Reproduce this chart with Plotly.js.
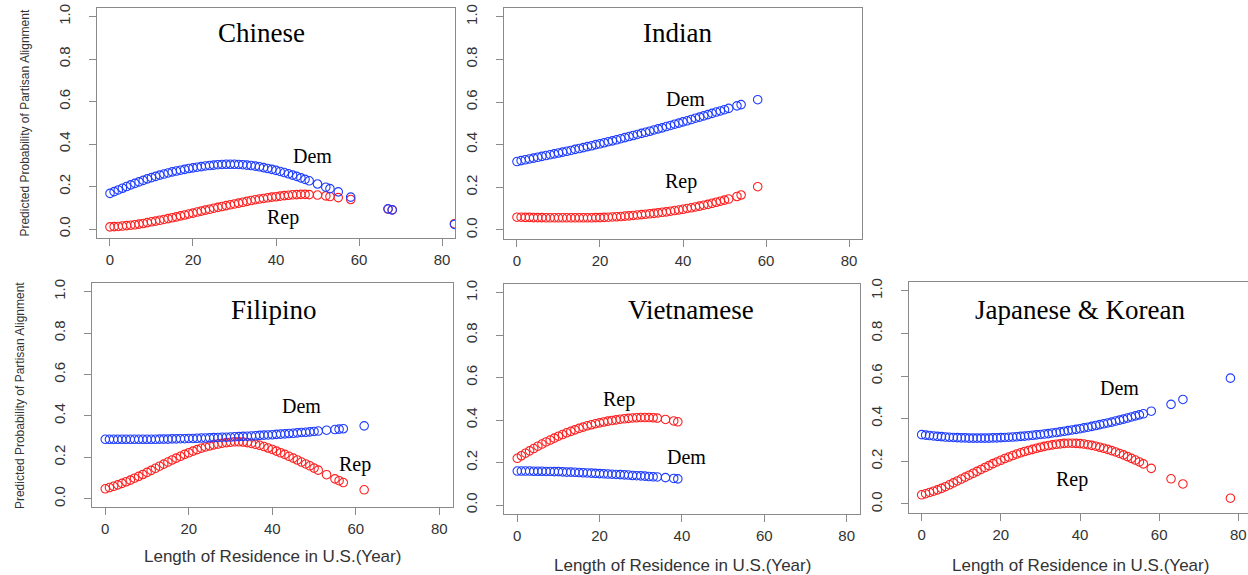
<!DOCTYPE html>
<html>
<head>
<meta charset="utf-8">
<script src="https://cdn.plot.ly/plotly-3.0.1.min.js"></script>
<style>
  html, body { margin: 0; padding: 0; background: #ffffff; }
  #chart { width: 1248px; height: 575px; }
</style>
</head>
<body>
<div id="chart"></div>
<script>
// ---------- Data ----------
const panelTitles = ["Chinese", "Indian", "Filipino", "Vietnamese", "Japanese & Korean"];
const xTickValues = [0, 20, 40, 60, 80];
const yTickValues = [0, 0.2, 0.4, 0.6, 0.8, 1.0];
const xAxisTitle = "Length of Residence in U.S.(Year)";
const yAxisTitle = "Predicted Probability of Partisan Alignment";

// Chinese
const chineseYears = [0,1,2,3,4,5,6,7,8,9,10,11,12,13,14,15,16,17,18,19,20,21,22,23,24,25,26,27,28,29,30,31,32,33,34,35,36,37,38,39,40,41,42,43,44,45,46,47,48,50,52,53,55,58,67,68,83];
const chineseDem = [0.168,0.176,0.184,0.192,0.200,0.208,0.215,0.222,0.229,0.236,0.242,0.248,0.254,0.259,0.264,0.269,0.273,0.277,0.281,0.285,0.288,0.291,0.294,0.297,0.299,0.301,0.303,0.304,0.305,0.305,0.305,0.304,0.303,0.301,0.299,0.296,0.293,0.289,0.285,0.281,0.276,0.271,0.266,0.260,0.254,0.248,0.241,0.234,0.227,0.212,0.197,0.190,0.175,0.150,0.095,0.090,0.022];
const chineseRep = [0.010,0.011,0.012,0.014,0.016,0.018,0.020,0.023,0.026,0.030,0.034,0.037,0.041,0.045,0.049,0.053,0.057,0.062,0.066,0.071,0.075,0.080,0.084,0.089,0.093,0.098,0.102,0.106,0.110,0.114,0.118,0.122,0.126,0.130,0.134,0.138,0.141,0.144,0.147,0.150,0.152,0.155,0.157,0.159,0.161,0.162,0.163,0.163,0.162,0.160,0.156,0.153,0.148,0.139,0.094,0.090,0.025];

// Indian
const indianYears = [0,1,2,3,4,5,6,7,8,9,10,11,12,13,14,15,16,17,18,19,20,21,22,23,24,25,26,27,28,29,30,31,32,33,34,35,36,37,38,39,40,41,42,43,44,45,46,47,48,49,50,51,53,54,58];
const indianDem = [0.321,0.325,0.329,0.333,0.337,0.341,0.345,0.349,0.353,0.357,0.361,0.365,0.369,0.373,0.378,0.382,0.386,0.391,0.395,0.400,0.404,0.409,0.414,0.418,0.423,0.428,0.433,0.438,0.443,0.448,0.453,0.458,0.463,0.469,0.474,0.479,0.485,0.490,0.496,0.501,0.507,0.512,0.518,0.524,0.529,0.535,0.541,0.547,0.553,0.558,0.564,0.570,0.582,0.588,0.611];
const indianRep = [0.060,0.060,0.059,0.059,0.058,0.058,0.058,0.057,0.057,0.057,0.057,0.057,0.057,0.057,0.057,0.057,0.057,0.057,0.057,0.058,0.058,0.059,0.060,0.061,0.062,0.063,0.065,0.066,0.068,0.070,0.072,0.074,0.076,0.078,0.080,0.083,0.085,0.088,0.091,0.094,0.097,0.101,0.104,0.108,0.112,0.116,0.120,0.125,0.130,0.135,0.140,0.145,0.157,0.164,0.203];

// Filipino
const filipinoYears = [0,1,2,3,4,5,6,7,8,9,10,11,12,13,14,15,16,17,18,19,20,21,22,23,24,25,26,27,28,29,30,31,32,33,34,35,36,37,38,39,40,41,42,43,44,45,46,47,48,49,50,51,53,55,56,57,62];
const filipinoDem = [0.287,0.287,0.287,0.287,0.287,0.287,0.287,0.287,0.287,0.287,0.287,0.287,0.287,0.288,0.288,0.288,0.289,0.289,0.290,0.290,0.291,0.291,0.292,0.293,0.293,0.294,0.295,0.296,0.297,0.297,0.298,0.299,0.300,0.301,0.302,0.303,0.304,0.306,0.307,0.308,0.309,0.311,0.312,0.313,0.315,0.316,0.318,0.320,0.321,0.323,0.325,0.327,0.331,0.334,0.336,0.338,0.352];
const filipinoRep = [0.048,0.054,0.060,0.067,0.074,0.082,0.090,0.099,0.108,0.117,0.127,0.137,0.147,0.157,0.167,0.177,0.187,0.196,0.205,0.214,0.222,0.230,0.237,0.244,0.250,0.255,0.260,0.264,0.268,0.271,0.273,0.275,0.275,0.274,0.271,0.267,0.263,0.258,0.252,0.245,0.238,0.230,0.222,0.214,0.205,0.196,0.187,0.177,0.168,0.159,0.148,0.138,0.116,0.096,0.087,0.078,0.043];

// Vietnamese
const vietnameseYears = [0,1,2,3,4,5,6,7,8,9,10,11,12,13,14,15,16,17,18,19,20,21,22,23,24,25,26,27,28,29,30,31,32,33,34,36,38,39];
const vietnameseDem = [0.160,0.160,0.160,0.160,0.159,0.159,0.159,0.158,0.158,0.157,0.157,0.156,0.155,0.155,0.154,0.153,0.152,0.151,0.150,0.149,0.148,0.147,0.146,0.145,0.144,0.143,0.142,0.141,0.139,0.138,0.137,0.136,0.134,0.133,0.132,0.129,0.125,0.123];
const vietnameseRep = [0.220,0.232,0.244,0.255,0.266,0.277,0.287,0.297,0.306,0.315,0.324,0.332,0.340,0.347,0.354,0.361,0.367,0.373,0.378,0.383,0.387,0.391,0.395,0.398,0.401,0.404,0.406,0.408,0.410,0.411,0.412,0.412,0.412,0.411,0.409,0.403,0.396,0.392];

// Japanese & Korean
const jkYears = [0,1,2,3,4,5,6,7,8,9,10,11,12,13,14,15,16,17,18,19,20,21,22,23,24,25,26,27,28,29,30,31,32,33,34,35,36,37,38,39,40,41,42,43,44,45,46,47,48,49,50,51,52,53,54,55,56,58,63,66,78];
const jkDem = [0.325,0.323,0.321,0.319,0.317,0.316,0.314,0.313,0.312,0.311,0.310,0.310,0.309,0.309,0.309,0.309,0.309,0.309,0.310,0.310,0.311,0.312,0.313,0.314,0.315,0.317,0.318,0.320,0.322,0.324,0.326,0.328,0.330,0.333,0.335,0.338,0.341,0.344,0.347,0.350,0.353,0.357,0.360,0.364,0.368,0.372,0.376,0.380,0.384,0.389,0.393,0.398,0.403,0.408,0.413,0.418,0.423,0.435,0.467,0.490,0.590];
const jkRep = [0.043,0.048,0.054,0.060,0.066,0.073,0.081,0.090,0.099,0.108,0.117,0.126,0.135,0.144,0.153,0.162,0.171,0.180,0.189,0.197,0.205,0.213,0.220,0.227,0.234,0.240,0.246,0.251,0.256,0.261,0.266,0.270,0.274,0.277,0.280,0.282,0.284,0.285,0.285,0.284,0.283,0.281,0.278,0.275,0.271,0.266,0.261,0.256,0.250,0.244,0.237,0.230,0.222,0.214,0.206,0.197,0.188,0.167,0.118,0.094,0.027];

// ---------- Layout helpers ----------
const W = 1248, H = 575;
const panels = [
  { title: panelTitles[0], x: chineseYears, dem: chineseDem, rep: chineseRep,
    box: [96.7, 455.3, 8.2, 237.5], xr: [-3.2, 83.2],
    tpos: [36.6, 0.925], dpos: [48.9, 0.344], rpos: [41.7, 0.052], ytitle: true, xtitle: false, mirrorY: true },
  { title: panelTitles[1], x: indianYears, dem: indianDem, rep: indianRep,
    box: [503.7, 862.3, 8.2, 238.5], xr: [-3.2, 83.2],
    tpos: [38.7, 0.925], dpos: [40.7, 0.614], rpos: [39.5, 0.227], ytitle: false, xtitle: false, mirrorY: true },
  { title: panelTitles[2], x: filipinoYears, dem: filipinoDem, rep: filipinoRep,
    box: [91.9, 452.7, 283.4, 507.0], xr: [-3.2, 83.2],
    tpos: [40.4, 0.912], dpos: [46.9, 0.448], rpos: [59.8, 0.163], ytitle: true, xtitle: true, xtY: 556.7, mirrorY: true },
  { title: panelTitles[3], x: vietnameseYears, dem: vietnameseDem, rep: vietnameseRep,
    box: [504.1, 859.8, 284.2, 513.5], xr: [-3.2, 83.2],
    tpos: [42.3, 0.918], dpos: [41.1, 0.228], rpos: [24.7, 0.495], ytitle: false, xtitle: true, xtY: 565, mirrorY: true },
  { title: panelTitles[4], x: jkYears, dem: jkDem, rep: jkRep,
    box: [909.0, 1248, 282.2, 512.5], xr: [-3.2, 82.44],
    tpos: [40.0, 0.909], dpos: [49.9, 0.542], rpos: [37.9, 0.113], ytitle: false, xtitle: true, xtY: 565, mirrorY: false }
];

const demColor = "#1f3dff";
const repColor = "#ff2020";
const lineColor = "#8a8a8a";
const tickFont = { family: "Liberation Sans, Arial, sans-serif", size: 15, color: "#333333" };
const serif = "Liberation Serif, Times New Roman, serif";

const traces = [];
const layout = {
  width: W, height: H,
  margin: { l: 0, r: 0, t: 0, b: 0, pad: 0 },
  paper_bgcolor: "#ffffff",
  plot_bgcolor: "#ffffff",
  showlegend: false,
  annotations: []
};

panels.forEach((p, i) => {
  const n = i + 1;
  const xa = "x" + (n === 1 ? "" : n);
  const ya = "y" + (n === 1 ? "" : n);
  const xkey = "xaxis" + (n === 1 ? "" : n);
  const ykey = "yaxis" + (n === 1 ? "" : n);
  const [bl, br, bt, bb] = p.box;

  traces.push({
    type: "scatter", mode: "markers", x: p.x, y: p.rep, xaxis: xa, yaxis: ya,
    marker: { symbol: "circle-open", size: 8.5, color: repColor, line: { width: 1.1, color: repColor } },
    hoverinfo: "skip"
  });
  traces.push({
    type: "scatter", mode: "markers", x: p.x, y: p.dem, xaxis: xa, yaxis: ya,
    marker: { symbol: "circle-open", size: 8.5, color: demColor, line: { width: 1.1, color: demColor } },
    hoverinfo: "skip"
  });

  layout[xkey] = {
    domain: [bl / W, br / W], range: p.xr, anchor: ya,
    tickvals: xTickValues, ticktext: xTickValues.map(String),
    ticks: "outside", ticklen: 7, tickwidth: 1, tickcolor: lineColor,
    showline: true, linecolor: lineColor, linewidth: 1, mirror: true,
    showgrid: false, zeroline: false, tickfont: tickFont, ticklabelstandoff: 1
  };
  layout[ykey] = {
    domain: [1 - bb / H, 1 - bt / H], range: [-0.04, 1.04], anchor: xa,
    tickvals: yTickValues, ticktext: yTickValues.map(v => v.toFixed(1)),
    ticks: "outside", ticklen: 7, tickwidth: 1, tickcolor: lineColor,
    showline: true, linecolor: lineColor, linewidth: 1, mirror: p.mirrorY,
    showgrid: false, zeroline: false, tickfont: tickFont, tickangle: -90,
    ticklabelstandoff: 13
  };

  layout.annotations.push({
    xref: xa, yref: ya, x: p.tpos[0], y: p.tpos[1], text: p.title, showarrow: false,
    font: { family: serif, size: 27, color: "#000000" }, xanchor: "center", yanchor: "middle"
  });
  layout.annotations.push({
    xref: xa, yref: ya, x: p.dpos[0], y: p.dpos[1], text: "Dem", showarrow: false,
    font: { family: serif, size: 20, color: "#000000" }, xanchor: "center", yanchor: "middle"
  });
  layout.annotations.push({
    xref: xa, yref: ya, x: p.rpos[0], y: p.rpos[1], text: "Rep", showarrow: false,
    font: { family: serif, size: 20, color: "#000000" }, xanchor: "center", yanchor: "middle"
  });
  if (p.ytitle) {
    layout.annotations.push({
      xref: "paper", yref: "paper", x: (bl - 72) / W, y: 1 - ((bt + bb) / 2) / H,
      text: yAxisTitle, showarrow: false, textangle: -90,
      font: { family: "Liberation Sans, Arial, sans-serif", size: 12, color: "#333333" },
      xanchor: "center", yanchor: "middle"
    });
  }
  if (p.xtitle) {
    const cx = n === 3 ? 272.5 : (n === 4 ? 682.5 : 1080.8);
    layout.annotations.push({
      xref: "paper", yref: "paper", x: cx / W, y: 1 - p.xtY / H,
      text: xAxisTitle, showarrow: false,
      font: { family: "Liberation Sans, Arial, sans-serif", size: 17, color: "#333333" },
      xanchor: "center", yanchor: "middle"
    });
  }
});

Plotly.newPlot("chart", traces, layout, { staticPlot: true, displayModeBar: false });
</script>
</body>
</html>
